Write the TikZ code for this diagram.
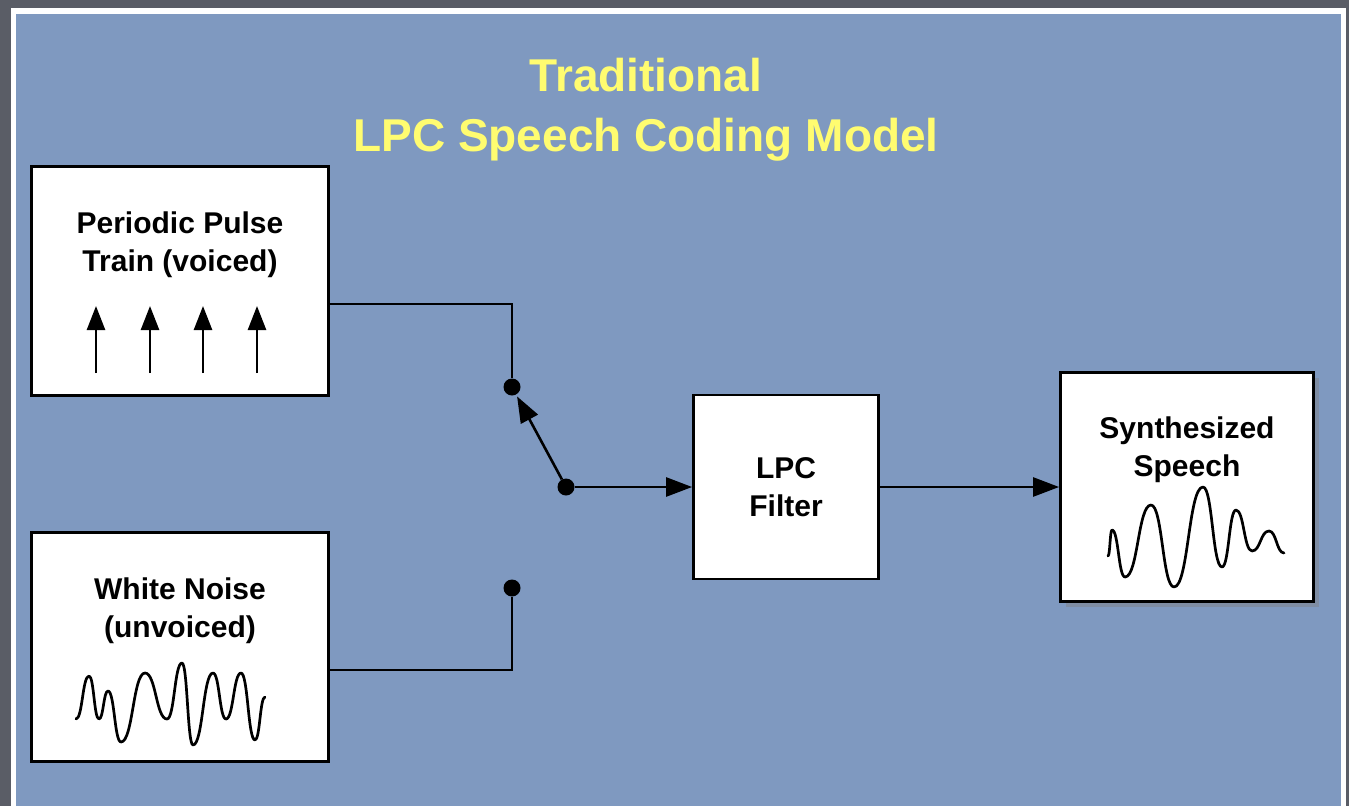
\documentclass[tikz,border=0pt]{standalone}
\usepackage{fontspec}
\setmainfont{Liberation Sans}
\usetikzlibrary{arrows.meta,shadows}
\definecolor{slateback}{RGB}{90,93,102}
\definecolor{slideblue}{RGB}{127,153,192}
\definecolor{titleyellow}{RGB}{255,252,112}
\tikzset{
  block/.style={draw=black, line width=2.8pt, fill=white, inner sep=0pt},
  lbl/.style={align=center, inner sep=0pt, font=\fontsize{30}{38}\selectfont\bfseries},
  wire/.style={line width=2.6pt},
  arr/.style={wire, -{Triangle[length=26pt,width=19pt]}},
  jdot/.style={circle, fill=black, inner sep=0pt, minimum size=17pt},
  wave/.style={line width=2.7pt, line join=round, line cap=round}
}

\begin{document}
\begin{tikzpicture}[x=1pt,y=-1pt]
\useasboundingbox (0,0) rectangle (1349,806);

%% slide background
\fill[slateback] (0,0) rectangle (1349,806);
\fill[white] (11,8) rectangle (1346,806);
\fill[slideblue] (16,14) rectangle (1341,806);

%% title
\node[align=center, inner sep=0pt, text=titleyellow, font=\fontsize{46}{60}\selectfont\bfseries] (ttl) at (646,110) {Traditional\\LPC Speech Coding Model};

%% blocks
\node[block, minimum width=297pt, minimum height=229pt] (pulse) at (180,281) {};
\node[block, minimum width=297pt, minimum height=229pt] (noise) at (180,647) {};
\node[block, minimum width=185pt, minimum height=184pt] (lpc) at (786,487) {};
\node[block, minimum width=253pt, minimum height=229pt, drop shadow={shadow xshift=5pt, shadow yshift=-5pt, opacity=0.45}] (synth) at (1187,487) {};

%% labels
\node[lbl] (pulsetxt) at (180,245) {Periodic Pulse\\Train (voiced)};
\node[lbl] (noisetxt) at (180,611) {White Noise\\(unvoiced)};
\node[lbl] (lpctxt) at (786,487) {LPC\\Filter};
\node[lbl] (synthtxt) at (1187,450) {Synthesized\\Speech};

%% pulses
\foreach \x in {96,150,203,257}
  \draw[wire, -{Triangle[length=24pt,width=18pt]}] (\x,373) -- (\x,306);

%% noise wave
\draw[wave] (76,719) foreach \x/\y [remember=\x as \lx (initially 76), remember=\y as \ly (initially 719)]
  in {89/676, 99/719, 108/691, 121/742, 145/673, 167/719, 182/663, 193/745, 213/673, 226/719, 241/673, 255/740, 265/697}
  { .. controls ({(\lx+\x)/2},\ly) and ({(\lx+\x)/2},\y) .. (\x,\y) };

%% speech wave
\draw[wave] (1108,556) foreach \x/\y [remember=\x as \lx (initially 1108), remember=\y as \ly (initially 556)]
  in {1112/530, 1125/577, 1151/505, 1174/587, 1203/487, 1222/567, 1236/510, 1252/551, 1269/531, 1284/553}
  { .. controls ({(\lx+\x)/2},\ly) and ({(\lx+\x)/2},\y) .. (\x,\y) };

%% switch
\node[jdot] (dotV) at (512,387) {};
\node[jdot] (dotU) at (512,588) {};
\node[jdot] (pivot) at (566,487) {};
\coordinate (vjoin) at (512,304);
\coordinate (ujoin) at (512,670);

%%% connections
\draw[wire] (pulse.east |- vjoin) -- (vjoin) -- (dotV);
\draw[wire] (noise.east |- ujoin) -- (ujoin) -- (dotU);
\draw[arr, shorten >=2pt] (pivot) -- (dotV);
\draw[arr] (pivot) -- (lpc);
\draw[arr] (lpc) -- (synth);

\end{tikzpicture}
\end{document}
